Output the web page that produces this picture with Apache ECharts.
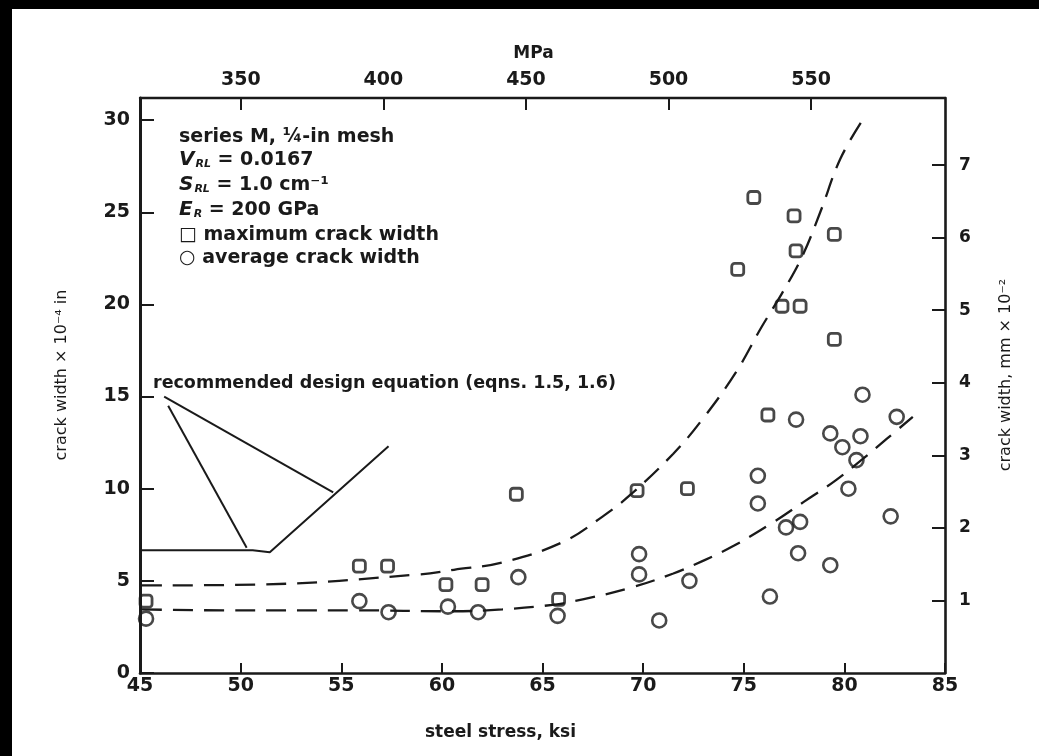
<!DOCTYPE html>
<html><head><meta charset="utf-8">
<script src="https://cdn.jsdelivr.net/npm/echarts@6/dist/echarts.min.js"></script>
<style>html,body{margin:0;padding:0;background:#fff}#c{width:1039px;height:756px}</style>
</head><body><div id="c"></div>
<script>
// ---- tick labels ----
const ksiTicks = [45, 50, 55, 60, 65, 70, 75, 80, 85];
const mpaTicks = [350, 400, 450, 500, 550];
const inTicks  = [0, 5, 10, 15, 20, 25, 30];
const mmTicks  = [1, 2, 3, 4, 5, 6, 7];

// ---- maximum crack width (squares) ----
const maxStress = [45.3, 55.9, 57.3, 60.2, 62.0, 63.7, 65.8, 69.7, 72.2, 74.7, 75.5, 77.5, 77.6, 76.9, 77.8, 79.5, 79.5, 76.2];
const maxWidth  = [3.9, 5.8, 5.8, 4.8, 4.8, 9.7, 4.0, 9.9, 10.0, 21.9, 25.8, 24.8, 22.9, 19.9, 19.9, 23.8, 18.1, 14.0];

// ---- average crack width (circles) ----
const avgStress = [45.3, 55.9, 57.35, 60.3, 61.8, 63.8, 65.75, 69.8, 69.8, 70.8, 72.3, 76.3, 75.7, 75.7, 77.1, 77.8, 77.7, 79.3, 77.6, 80.9, 80.8, 80.6, 80.2, 82.3, 82.6, 79.3, 79.9];
const avgWidth  = [2.95, 3.9, 3.3, 3.6, 3.3, 5.2, 3.1, 6.45, 5.35, 2.85, 5.0, 4.15, 9.2, 10.7, 7.9, 8.2, 6.5, 5.85, 13.75, 15.1, 12.85, 11.55, 10.0, 8.5, 13.9, 13.0, 12.25];

// ---- fitted dashed curves ----
const upperX = [45.1, 50.9, 58.9, 60.6, 63.0, 66.0, 68.0, 69.4, 71.5, 72.9, 74.6, 75.9, 76.9, 77.9, 78.8, 79.8, 80.9];
const upperY = [4.75, 4.8, 5.35, 5.6, 6.0, 7.1, 8.5, 9.7, 11.9, 13.7, 16.3, 18.8, 20.6, 22.6, 25.0, 27.9, 30.0];
const lowerX = [45.1, 49.3, 55.7, 60.5, 63.0, 65.5, 67.0, 69.3, 71.5, 73.0, 74.5, 76.5, 78.0, 79.5, 80.9, 82.1, 83.4];
const lowerY = [3.45, 3.4, 3.4, 3.35, 3.45, 3.7, 4.0, 4.6, 5.4, 6.1, 6.9, 8.2, 9.3, 10.4, 11.6, 12.7, 13.9];

// ---- recommended design equation ----
const designX = [45, 50.6, 51.45, 57.35];
const designY = [6.66, 6.66, 6.55, 12.3];
const arrowFrom = [[46.2, 15.0], [46.4, 14.5]];
const arrowTo   = [[54.6, 9.8], [50.3, 6.8]];

const FONT = '"DejaVu Sans", "Liberation Sans", sans-serif';
const INK = '#1a1a1a';
const zip = (a, b) => a.map((v, i) => [v, b[i]]);

const chart = echarts.init(document.getElementById('c'), null, {renderer: 'canvas'});

const lbl = (extra) => Object.assign({fontSize: 19, fontWeight: 'bold', color: INK, fontFamily: FONT}, extra);
const line = (w) => ({show: true, onZero: false, lineStyle: {color: INK, width: w}});

const legendTxt = (y, text, rich) => ({
  type: 'text', x: 179, y: y,
  style: {text: text, rich: rich, fontSize: 19, fontWeight: 'bold', fontFamily: FONT, fill: INK,
          textVerticalAlign: 'middle', verticalAlign: 'middle'}
});
const subRich = {
  v: {fontSize: 20, fontStyle: 'italic', fontWeight: 'bold', fontFamily: FONT, color: INK, lineHeight: 24},
  s: {fontSize: 11, fontStyle: 'italic', fontWeight: 'bold', fontFamily: FONT, color: INK, lineHeight: 24, verticalAlign: 'bottom', padding: [0, 0, 2, 1]},
  t: {fontSize: 19, fontWeight: 'bold', fontFamily: FONT, color: INK, lineHeight: 24}
};

chart.setOption({
  animation: false,
  backgroundColor: '#ffffff',
  grid: {left: 140, right: 94, top: 98, bottom: 83},
  xAxis: [
    {type: 'value', position: 'bottom', min: 45, max: 85, interval: 5,
     axisLine: line(2.6), splitLine: {show: false},
     axisTick: {inside: true, length: 10, lineStyle: {color: INK, width: 2}},
     axisLabel: lbl({margin: 4}),
     name: 'steel stress, ksi', nameLocation: 'middle', nameGap: 51,
     nameTextStyle: {fontSize: 17, fontWeight: 'bold', color: INK, fontFamily: FONT, padding: [0, 84, 0, 0]}},
    {type: 'value', position: 'top', min: 314.6, max: 597,
     axisLine: line(2.4), splitLine: {show: false},
     axisTick: {inside: true, length: 12, customValues: mpaTicks, lineStyle: {color: INK, width: 2}},
     axisLabel: lbl({margin: 8, customValues: mpaTicks}),
     name: 'MPa', nameLocation: 'middle', nameGap: 36,
     nameTextStyle: {fontSize: 17, fontWeight: 'bold', color: INK, fontFamily: FONT, padding: [0, 18, 0, 0]}}
  ],
  yAxis: [
    {type: 'value', position: 'left', min: 0, max: 31.2,
     axisLine: line(3), splitLine: {show: false},
     axisTick: {inside: true, length: 14, customValues: inTicks, lineStyle: {color: INK, width: 2}},
     axisLabel: lbl({margin: 10, customValues: inTicks})},
    {type: 'value', position: 'right', min: 0, max: 31.2 * 0.254,
     axisLine: line(2.6), splitLine: {show: false},
     axisTick: {inside: true, length: 13, customValues: mmTicks, lineStyle: {color: INK, width: 2}},
     axisLabel: lbl({margin: 14, fontSize: 17, customValues: mmTicks})}
  ],
  series: [
    {type: 'line', data: zip(upperX, upperY), smooth: 0.4, symbol: 'none', silent: true,
     lineStyle: {color: INK, width: 2.3, type: [20, 11]}},
    {type: 'line', data: zip(lowerX, lowerY), smooth: 0.4, symbol: 'none', silent: true,
     lineStyle: {color: INK, width: 2.3, type: [20, 11]}},
    {type: 'line', data: zip(designX, designY), symbol: 'none', silent: true,
     lineStyle: {color: INK, width: 2, type: 'solid'},
     markLine: {silent: true, symbol: ['none', 'arrow'], symbolSize: [0, 14], animation: false,
       label: {show: false}, lineStyle: {color: INK, width: 2, type: 'solid'},
       data: arrowFrom.map((f, i) => [{coord: f}, {coord: arrowTo[i]}])}},
    {type: 'scatter', name: 'maximum crack width', data: zip(maxStress, maxWidth),
     symbol: 'roundRect', symbolSize: 12, z: 5,
     itemStyle: {color: 'rgba(255,255,255,0)', borderColor: INK, borderWidth: 2.8}},
    {type: 'scatter', name: 'average crack width', data: zip(avgStress, avgWidth),
     symbol: 'circle', symbolSize: 14, z: 5,
     itemStyle: {color: 'rgba(255,255,255,0)', borderColor: INK, borderWidth: 2.6}}
  ],
  graphic: [
    {type: 'rect', shape: {x: 0, y: 0, width: 12, height: 756}, style: {fill: '#000'}},
    {type: 'rect', shape: {x: 0, y: 0, width: 1039, height: 9}, style: {fill: '#000'}},
    legendTxt(137, 'series M, ¼-in mesh'),
    legendTxt(160, '{v|V}{s|RL}{t| = 0.0167}', subRich),
    legendTxt(185, '{v|S}{s|RL}{t| = 1.0 cm⁻¹}', subRich),
    legendTxt(210, '{v|E}{s|R}{t| = 200 GPa}', subRich),
    legendTxt(235, '□ maximum crack width'),
    legendTxt(258, '○ average crack width'),
    {type: 'text', x: 153, y: 383,
     style: {text: 'recommended design equation (eqns. 1.5, 1.6)', fontSize: 17.5, fontWeight: 'bold',
             fontFamily: FONT, fill: INK, textVerticalAlign: 'middle', verticalAlign: 'middle'}},
    {type: 'text', x: 62, y: 375, rotation: Math.PI / 2,
     style: {text: 'crack width × 10⁻⁴ in', fontSize: 16, fontFamily: FONT, fill: INK,
             textAlign: 'center', align: 'center', textVerticalAlign: 'middle', verticalAlign: 'middle'}},
    {type: 'text', x: 1006, y: 375, rotation: Math.PI / 2,
     style: {text: 'crack width, mm × 10⁻²', fontSize: 16, fontFamily: FONT, fill: INK,
             textAlign: 'center', align: 'center', textVerticalAlign: 'middle', verticalAlign: 'middle'}}
  ]
});
</script></body></html>
